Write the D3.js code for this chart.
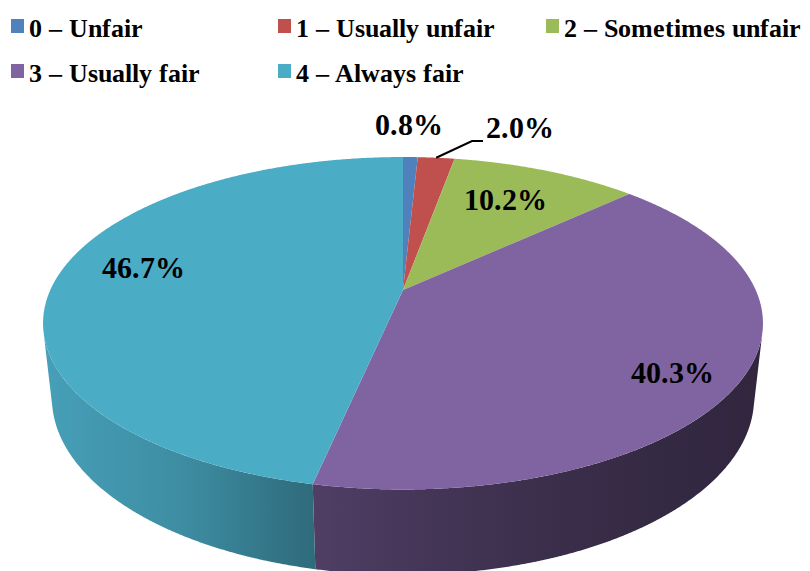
<!DOCTYPE html>
<html>
<head>
<meta charset="utf-8">
<script src="https://cdn.jsdelivr.net/npm/d3@7"></script>
<style>
  @font-face {
    font-family: "ChartSerif";
    font-weight: bold;
    src: local("Liberation Serif Bold"), local("LiberationSerif-Bold"), local("Times New Roman Bold");
  }
</style>
</head>
<body style="margin:0">
<svg id="chart" width="810" height="571"></svg>
<script>
// chart data
const categories = ["0 – Unfair", "1 – Usually unfair", "2 – Sometimes unfair", "3 – Usually fair", "4 – Always fair"];
const values = [0.8, 2.0, 10.2, 40.3, 46.7];
const valueLabels = ["0.8%", "2.0%", "10.2%", "40.3%", "46.7%"];
const colors = ["#4F81BD", "#C0504D", "#9BBB59", "#8064A2", "#4BACC6"];

const fontFamily = "ChartSerif, \"Liberation Serif\", \"Nimbus Roman\", Times, serif";

// camera for the tilted pie (unit radius disc)
const cx = 403, cy = 290, f = 1573, D = 4.46, depth = 0.239;
const tilt = 26.9 * Math.PI / 180;
const sinA = Math.sin(tilt), cosA = Math.cos(tilt);

const project = (theta, r, yw) => {
  const X = r * Math.sin(theta), Z = r * Math.cos(theta);
  const yc = yw * cosA + Z * sinA;
  const zc = D + Z * cosA - yw * sinA;
  return [cx + f * X / zc, cy - f * yc / zc];
};

// label placement (centre x, baseline y) relative to the pie centre
const labelPos = [[6, -155], [117, -152], [102, -80], [269, 93], [-260, -12]];

const svg = d3.select("#chart");

const arcs = d3.pie().sort(null).value(d => d)(values);
const line = d3.line().curve(d3.curveLinearClosed);
const step = Math.PI / 720;

const sample = (a0, a1, r, yw) => {
  const n = Math.max(2, Math.ceil((a1 - a0) / step));
  return d3.range(n + 1).map(i => project(a0 + (a1 - a0) * i / n, r, yw));
};

// wall shading across x (lighter on the left, darker on the right)
const shade = d3.scaleLinear()
  .domain([43, 180, 316, 480, 640, 763])
  .range([0.93, 0.82, 0.62, 0.5, 0.42, 0.38])
  .clamp(true);

const defs = svg.append("defs");

// visible part of the outer wall
const tv = Math.acos(-1 / (D * cosA));
const walls = svg.append("g");
arcs.forEach((a, i) => {
  const lo = Math.max(a.startAngle, tv), hi = Math.min(a.endAngle, 2 * Math.PI - tv);
  if (lo >= hi) return;
  const top = sample(lo, hi, 1, 0);
  const bottom = sample(lo, hi, 1, -depth).reverse();
  const pts = top.concat(bottom);
  const [x0, x1] = d3.extent(pts, p => p[0]);
  const g = defs.append("linearGradient")
    .attr("id", "wall" + i)
    .attr("gradientUnits", "userSpaceOnUse")
    .attr("x1", x0).attr("x2", x1).attr("y1", 0).attr("y2", 0);
  const base = d3.rgb(colors[i]);
  d3.range(9).forEach(k => {
    const x = x0 + (x1 - x0) * k / 8;
    const s = shade(x);
    g.append("stop")
      .attr("offset", k / 8)
      .attr("stop-color", d3.rgb(base.r * s, base.g * s, base.b * s));
  });
  walls.append("path")
    .attr("d", line(pts))
    .attr("fill", `url(#wall${i})`);
});

// top face
svg.append("g").selectAll("path")
  .data(arcs)
  .join("path")
    .attr("d", a => line([project(0, 0, 0)].concat(sample(a.startAngle, a.endAngle, 1, 0))))
    .attr("fill", (a, i) => colors[i]);

// leader line for the small red slice
const red = arcs[1];
const lp = project((red.startAngle + red.endAngle) / 2, 1, 0);
const lx = cx + labelPos[1][0], ly = cy + labelPos[1][1];
svg.append("polyline")
  .attr("points", [lp, [lx - 48, ly + 3], [lx - 37, ly + 3]].map(p => p.join(",")).join(" "))
  .attr("fill", "none")
  .attr("stroke", "#000")
  .attr("stroke-width", 2);

// value labels
svg.selectAll("text.value")
  .data(valueLabels)
  .join("text")
    .attr("class", "value")
    .attr("x", (d, i) => cx + labelPos[i][0])
    .attr("y", (d, i) => cy + labelPos[i][1])
    .attr("text-anchor", "middle")
    .style("font-family", fontFamily)
    .style("font-weight", "bold")
    .style("font-size", "30px")
    .text(d => d);

// legend
const legendX = [11, 278, 546];
const legendPos = (i) => [legendX[i % 3], i < 3 ? 37 : 82];

svg.selectAll("rect.key")
  .data(categories)
  .join("rect")
    .attr("class", "key")
    .attr("x", (d, i) => legendPos(i)[0])
    .attr("y", (d, i) => legendPos(i)[1] - 18)
    .attr("width", 13).attr("height", 14)
    .attr("fill", (d, i) => colors[i]);

svg.selectAll("text.legend")
  .data(categories)
  .join("text")
    .attr("class", "legend")
    .attr("x", (d, i) => legendPos(i)[0] + 18)
    .attr("y", (d, i) => legendPos(i)[1])
    .style("font-family", fontFamily)
    .style("font-weight", "bold")
    .style("font-size", "26px")
    .text(d => d);
</script>
</body>
</html>
